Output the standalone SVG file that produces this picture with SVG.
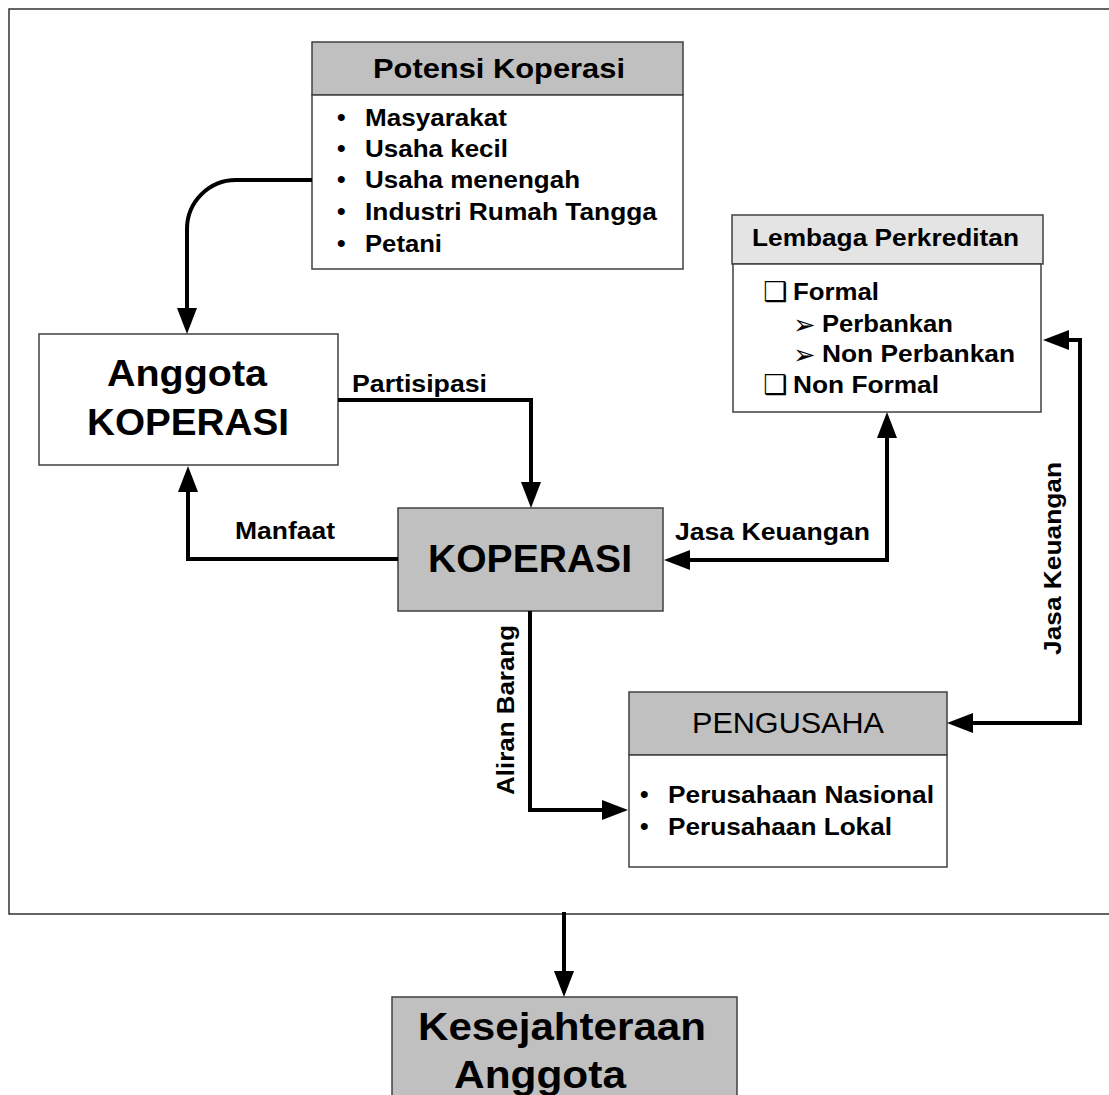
<svg xmlns="http://www.w3.org/2000/svg" width="1109" height="1095" viewBox="0 0 1109 1095">
<style>
.box{stroke:#404040;stroke-width:1.5}
.g{fill:#c0c0c0}
.w{fill:#ffffff}
.lh{fill:#e4e4e4}
text{font-family:"Liberation Sans",Arial,sans-serif;font-weight:bold;fill:#000}
.sym{font-family:"DejaVu Sans",sans-serif;font-weight:bold}
.conn{fill:none;stroke:#000;stroke-width:4;stroke-linejoin:miter}
.frame{fill:none;stroke:#333;stroke-width:1.5}
</style>
<defs>
<marker id="ah" viewBox="0 0 26 20" refX="20" refY="10" markerWidth="26" markerHeight="20" markerUnits="userSpaceOnUse" orient="auto-start-reverse">
<path d="M0,0 L26,10 L0,20 z" fill="#000"/>
</marker>
</defs>
<rect class="frame" x="9" y="9" width="1110" height="905"/>

<g id="potensi">
<rect class="box g" x="312" y="42" width="371" height="53"/>
<rect class="box w" x="312" y="95" width="371" height="174"/>
<text x="373" y="78" font-size="28.5" textLength="252" lengthAdjust="spacingAndGlyphs">Potensi Koperasi</text>
<g font-size="24.5">
<text x="337" y="126">•</text><text x="365" y="126" textLength="142" lengthAdjust="spacingAndGlyphs">Masyarakat</text>
<text x="337" y="157">•</text><text x="365" y="157" textLength="143" lengthAdjust="spacingAndGlyphs">Usaha kecil</text>
<text x="337" y="188">•</text><text x="365" y="188" textLength="215" lengthAdjust="spacingAndGlyphs">Usaha menengah</text>
<text x="337" y="220">•</text><text x="365" y="220" textLength="292" lengthAdjust="spacingAndGlyphs">Industri Rumah Tangga</text>
<text x="337" y="252">•</text><text x="365" y="252" textLength="77" lengthAdjust="spacingAndGlyphs">Petani</text>
</g>
</g>

<g id="lembaga">
<rect class="box lh" x="732" y="215" width="311" height="49"/>
<rect class="box w" x="733" y="264" width="308" height="148"/>
<text x="752" y="246" font-size="24" textLength="267" lengthAdjust="spacingAndGlyphs">Lembaga Perkreditan</text>
<g font-size="24.5">
<text class="sym" x="763" y="301" font-size="27">❑</text><text x="793" y="300" textLength="86" lengthAdjust="spacingAndGlyphs">Formal</text>
<text class="sym" x="793" y="334" font-size="27">➢</text><text x="822" y="332" textLength="131" lengthAdjust="spacingAndGlyphs">Perbankan</text>
<text class="sym" x="793" y="364" font-size="27">➢</text><text x="822" y="362" textLength="193" lengthAdjust="spacingAndGlyphs">Non Perbankan</text>
<text class="sym" x="763" y="394" font-size="27">❑</text><text x="793" y="393" textLength="146" lengthAdjust="spacingAndGlyphs">Non Formal</text>
</g>
</g>

<g id="anggota">
<rect class="box w" x="39" y="334" width="299" height="131"/>
<text x="107" y="386" font-size="36" textLength="160" lengthAdjust="spacingAndGlyphs">Anggota</text>
<text x="87" y="435" font-size="36" textLength="202" lengthAdjust="spacingAndGlyphs">KOPERASI</text>
</g>

<g id="koperasi">
<rect class="box g" x="398" y="508" width="265" height="103"/>
<text x="428" y="572" font-size="39" textLength="204" lengthAdjust="spacingAndGlyphs">KOPERASI</text>
</g>

<g id="pengusaha">
<rect class="box g" x="629" y="692" width="318" height="63"/>
<rect class="box w" x="629" y="755" width="318" height="112"/>
<text x="692" y="733" font-size="29" style="font-weight:normal" textLength="192" lengthAdjust="spacingAndGlyphs">PENGUSAHA</text>
<g font-size="24.5">
<text x="640" y="803">•</text><text x="668" y="803" textLength="266" lengthAdjust="spacingAndGlyphs">Perusahaan Nasional</text>
<text x="640" y="835">•</text><text x="668" y="835" textLength="224" lengthAdjust="spacingAndGlyphs">Perusahaan Lokal</text>
</g>
</g>

<g id="kesejahteraan">
<rect class="box g" x="392" y="997" width="345" height="110"/>
<text x="418" y="1040" font-size="39" textLength="288" lengthAdjust="spacingAndGlyphs">Kesejahteraan</text>
<text x="454" y="1088" font-size="39" textLength="172" lengthAdjust="spacingAndGlyphs">Anggota</text>
</g>

<g id="connectors">
<path class="conn" d="M312,180 H236 A49,49 0 0 0 187,229 V328" marker-end="url(#ah)"/>
<path class="conn" d="M338,400 H531 V502" marker-end="url(#ah)"/>
<path class="conn" d="M398,559 H188 V472" marker-end="url(#ah)"/>
<path class="conn" d="M887,418 V560 H670" marker-start="url(#ah)" marker-end="url(#ah)"/>
<path class="conn" d="M530,611 V810 H622" marker-end="url(#ah)"/>
<path class="conn" d="M1049,340 H1080 V723 H953" marker-start="url(#ah)" marker-end="url(#ah)"/>
<path class="conn" d="M564,912 V991" marker-end="url(#ah)"/>
<g font-size="23.5">
<text x="352" y="392" textLength="135" lengthAdjust="spacingAndGlyphs">Partisipasi</text>
<text x="235" y="539" textLength="100" lengthAdjust="spacingAndGlyphs">Manfaat</text>
<text x="675" y="540" textLength="195" lengthAdjust="spacingAndGlyphs">Jasa Keuangan</text>
<text transform="translate(514,795) rotate(-90)" textLength="170" lengthAdjust="spacingAndGlyphs">Aliran Barang</text>
<text transform="translate(1061,655) rotate(-90)" textLength="193" lengthAdjust="spacingAndGlyphs">Jasa Keuangan</text>
</g>
</g>
</svg>
